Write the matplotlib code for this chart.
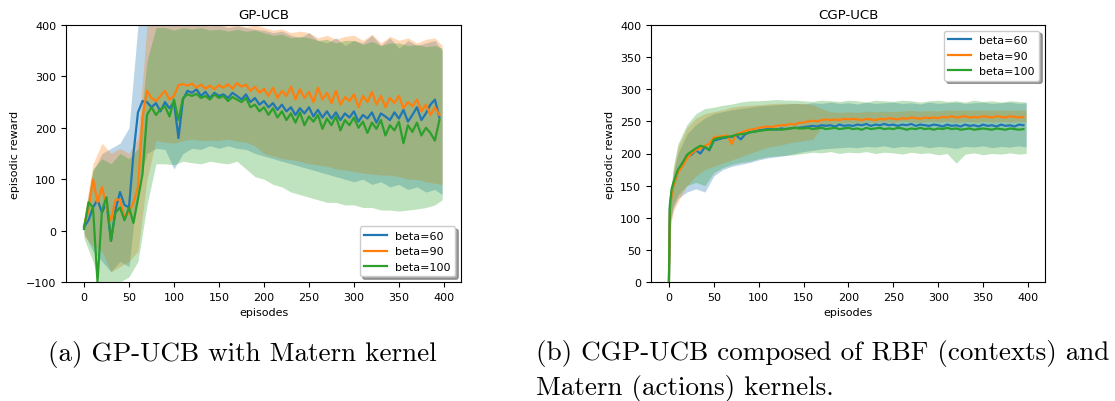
import numpy as np
import matplotlib
matplotlib.use("Agg")
import matplotlib.pyplot as plt

# ---- data (GP-UCB, left panel), one value per 5 episodes ----
series_labels = ["beta=60", "beta=90", "beta=100"]
series_colors = ["#1f77b4", "#ff7f0e", "#2ca02c"]

gp_b60 = [7, 20, 45, 60, 35, 55, -20, 40, 75, 50, 45, 150, 230, 252, 250, 240, 248, 232, 250, 238,
          250, 180, 255, 272, 268, 275, 262, 270, 258, 268, 262, 265, 258, 268, 262, 255, 265, 250, 258, 245,
          252, 240, 248, 235, 245, 232, 240, 225, 238, 228, 240, 222, 235, 220, 232, 218, 230, 215, 228, 220,
          232, 212, 225, 218, 230, 210, 228, 222, 215, 230, 218, 235, 212, 225, 240, 215, 228, 245, 255, 220]
gp_b90 = [10, 40, 100, 55, 85, 45, 20, 60, 60, 25, 35, 55, 85, 220, 272, 258, 252, 262, 272, 255,
          262, 283, 285, 282, 286, 278, 284, 276, 282, 275, 283, 278, 285, 276, 287, 280, 284, 272, 280, 268,
          276, 262, 278, 258, 272, 262, 280, 255, 275, 258, 270, 250, 278, 255, 268, 248, 272, 245, 260, 252,
          265, 240, 262, 250, 270, 245, 262, 240, 258, 248, 262, 238, 250, 242, 255, 232, 245, 225, 240, 225]
gp_b100 = [3, 55, 45, -100, 40, 65, -20, 35, 45, 20, 45, 15, 62, 110, 225, 240, 225, 236, 242, 222,
           255, 215, 258, 265, 262, 266, 258, 262, 255, 265, 258, 262, 252, 260, 255, 250, 258, 240, 245, 232,
           240, 225, 238, 220, 232, 215, 228, 210, 230, 205, 222, 212, 225, 198, 218, 205, 222, 195, 215, 205,
           220, 200, 212, 190, 210, 198, 215, 185, 205, 195, 212, 170, 205, 192, 210, 185, 200, 190, 175, 215]

# confidence bands, one value per 10 episodes (0 ... 400)
gp_b60_lo = [-5, -40, -60, -80, -60, -70, 90, 150, 160, 158, 120, 150, 160, 158, 165, 160, 165, 160, 158, 150,
             145, 140, 135, 130, 125, 120, 115, 110, 105, 100, 95, 100, 90, 95, 85, 90, 80, 85, 75, 80, 70]
gp_b60_hi = [20, 115, 150, 160, 170, 200, 400, 420, 420, 410, 410, 405, 400, 400, 398, 400, 395, 398, 395, 392,
             390, 385, 388, 380, 375, 385, 370, 365, 375, 360, 370, 365, 380, 360, 375, 355, 370, 360, 365, 370, 350]
gp_b90_lo = [-10, -30, -40, -80, -70, -60, -40, 100, 175, 172, 170, 175, 178, 175, 176, 175, 178, 174, 172, 165,
             150, 145, 140, 138, 135, 130, 128, 125, 120, 118, 115, 112, 110, 108, 108, 105, 100, 100, 95, 92, 90]
gp_b90_hi = [25, 130, 170, 150, 160, 150, 180, 400, 420, 420, 415, 410, 405, 402, 400, 402, 398, 400, 396, 400,
             395, 390, 392, 385, 388, 385, 375, 380, 372, 378, 380, 370, 382, 365, 378, 370, 375, 365, 372, 375, 360]
gp_b100_lo = [-15, -60, -120, -130, -100, -90, -60, 50, 130, 130, 128, 135, 132, 130, 135, 132, 130, 135, 120, 105,
              100, 90, 85, 75, 70, 65, 60, 55, 55, 50, 50, 45, 45, 40, 40, 38, 40, 42, 45, 50, 60]
gp_b100_hi = [20, 120, 140, 130, 150, 140, 160, 330, 395, 395, 390, 395, 392, 395, 390, 392, 388, 392, 388, 390,
              385, 380, 382, 375, 378, 375, 370, 372, 365, 370, 370, 362, 368, 360, 365, 365, 360, 362, 358, 360, 355]

# ---- data (CGP-UCB, right panel) ----
cgp_episodes = np.r_[0, 1, 3, np.arange(5, 400, 5)]
cgp_b60 = [2, 115, 140, 150, 172, 185, 195, 198, 205, 200, 210, 205, 220, 222, 224, 225, 226, 228, 222, 230,
           233, 234, 236, 237, 238, 238, 237, 239, 238, 239, 240, 240, 241, 242, 243, 242, 244, 243, 244, 242,
           245, 243, 244, 243, 245, 244, 246, 243, 245, 244, 246, 244, 245, 243, 245, 244, 246, 243, 245, 244,
           243, 245, 244, 242, 245, 243, 244, 242, 245, 243, 244, 242, 245, 243, 244, 242, 245, 243, 244, 242,
           245, 244]
cgp_b90 = [2, 110, 135, 150, 170, 180, 192, 200, 205, 208, 212, 215, 225, 226, 227, 228, 215, 230, 232, 235,
           237, 238, 240, 241, 242, 241, 243, 244, 244, 246, 245, 248, 248, 250, 251, 250, 252, 253, 252, 253,
           252, 254, 253, 254, 253, 252, 254, 253, 252, 254, 253, 255, 254, 253, 255, 254, 256, 255, 254, 256,
           255, 256, 255, 257, 256, 258, 256, 257, 258, 256, 257, 256, 258, 257, 256, 258, 257, 256, 258, 257,
           256, 257]
cgp_b100 = [2, 120, 145, 155, 175, 185, 198, 203, 208, 212, 210, 206, 222, 224, 225, 226, 227, 229, 230, 231,
            233, 234, 235, 236, 237, 237, 238, 237, 238, 239, 240, 239, 239, 240, 238, 239, 240, 238, 239, 240,
            238, 239, 240, 238, 239, 237, 240, 238, 239, 240, 238, 239, 238, 240, 239, 237, 239, 238, 240, 238,
            239, 237, 239, 238, 240, 238, 239, 237, 238, 239, 237, 238, 239, 238, 237, 239, 238, 237, 239, 238,
            237, 238]

cgp_band_episodes = np.r_[0, 2, 5, np.arange(10, 400, 10), 398]
cgp_b60_lo = [0, 95, 115, 130, 140, 145, 140, 165, 175, 180, 183, 186, 190, 193, 195, 197, 200, 203, 205, 207,
              208, 209, 210, 209, 211, 210, 212, 209, 211, 210, 212, 209, 211, 210, 208, 211, 210, 212, 209, 211,
              210, 212, 210]
cgp_b60_hi = [5, 135, 170, 200, 230, 245, 255, 262, 265, 268, 270, 272, 274, 275, 276, 277, 278, 277, 279, 278,
              280, 278, 279, 277, 280, 278, 279, 280, 278, 279, 277, 280, 278, 279, 280, 278, 279, 280, 278, 279,
              280, 278, 279]
cgp_b90_lo = [0, 90, 110, 125, 150, 165, 175, 180, 185, 190, 195, 200, 205, 210, 212, 215, 218, 220, 222, 240,
              246, 247, 248, 247, 249, 248, 249, 248, 250, 249, 248, 250, 249, 250, 248, 250, 249, 250, 249, 250,
              249, 250, 249]
cgp_b90_hi = [5, 140, 175, 210, 240, 255, 262, 265, 268, 272, 274, 275, 276, 277, 278, 278, 278, 278, 276, 270,
              265, 264, 265, 264, 266, 265, 266, 265, 266, 267, 266, 267, 266, 268, 267, 268, 267, 268, 267, 268,
              267, 268, 267]
cgp_b100_lo = [0, 100, 120, 135, 150, 155, 150, 170, 178, 183, 186, 188, 192, 195, 196, 197, 198, 200, 202, 201,
               203, 200, 202, 201, 203, 200, 202, 201, 199, 202, 200, 201, 198, 200, 185, 199, 201, 198, 200, 199,
               201, 199, 200]
cgp_b100_hi = [5, 140, 180, 215, 245, 262, 270, 272, 275, 277, 280, 282, 282, 283, 284, 283, 283, 282, 281, 283,
               282, 281, 283, 282, 280, 283, 282, 281, 283, 282, 280, 282, 283, 281, 282, 280, 283, 281, 282, 280,
               282, 281, 280]

gp_means = [gp_b60, gp_b90, gp_b100]
gp_bands = [(gp_b60_lo, gp_b60_hi), (gp_b90_lo, gp_b90_hi), (gp_b100_lo, gp_b100_hi)]
cgp_means = [cgp_b60, cgp_b90, cgp_b100]
cgp_bands = [(cgp_b60_lo, cgp_b60_hi), (cgp_b90_lo, cgp_b90_hi), (cgp_b100_lo, cgp_b100_hi)]

gp_episodes = np.arange(len(gp_b60)) * 5
gp_band_episodes = np.minimum(np.arange(len(gp_b60_lo)) * 10, 398)


def draw_panel(ax, x, means, xb, bands, title, yticks, ylim, legend_loc):
    for mean, (lo, hi), label, color in zip(means, bands, series_labels, series_colors):
        ax.fill_between(xb, lo, hi, color=color, alpha=0.3, linewidth=0)
        ax.plot(x, mean, color=color, linewidth=1.6, label=label)
    ax.set_ylim(*ylim)
    ax.set_yticks(yticks)
    ax.set_xticks(np.arange(0, 401, 50))
    ax.set_xlim(-20, 419)
    ax.set_title(title, fontsize=9.6, pad=5)
    ax.set_xlabel("episodes", fontsize=8)
    ax.set_ylabel("episodic reward", fontsize=8)
    ax.tick_params(labelsize=8, length=3.5, width=0.8)
    ax.legend(loc=legend_loc, fontsize=8, shadow=True, fancybox=True)


fig = plt.figure(figsize=(11.15, 4.02), dpi=100)
W, H = 1115, 402
ax1 = fig.add_axes([66 / W, 1 - 283 / H, 395 / W, 257 / H])
ax2 = fig.add_axes([651 / W, 1 - 283 / H, 394 / W, 257 / H])

draw_panel(ax1, gp_episodes, gp_means, gp_band_episodes, gp_bands, "GP-UCB",
           np.arange(-100, 401, 100), (-100, 400), "lower right")
draw_panel(ax2, cgp_episodes, cgp_means, cgp_band_episodes, cgp_bands, "CGP-UCB",
           np.arange(0, 401, 50), (0, 400), "upper right")

cap = dict(family="cmr10", fontsize=19.5, va="center", ha="left")
fig.text(48 / W, 1 - 355 / H, "(a) GP-UCB with Matern kernel", **cap)
fig.text(536 / W, 1 - 354 / H, "(b) CGP-UCB composed of RBF (contexts) and", **cap)
fig.text(536 / W, 1 - 389 / H, "Matern (actions) kernels.", **cap)

fig.savefig("out.png", dpi=100)
